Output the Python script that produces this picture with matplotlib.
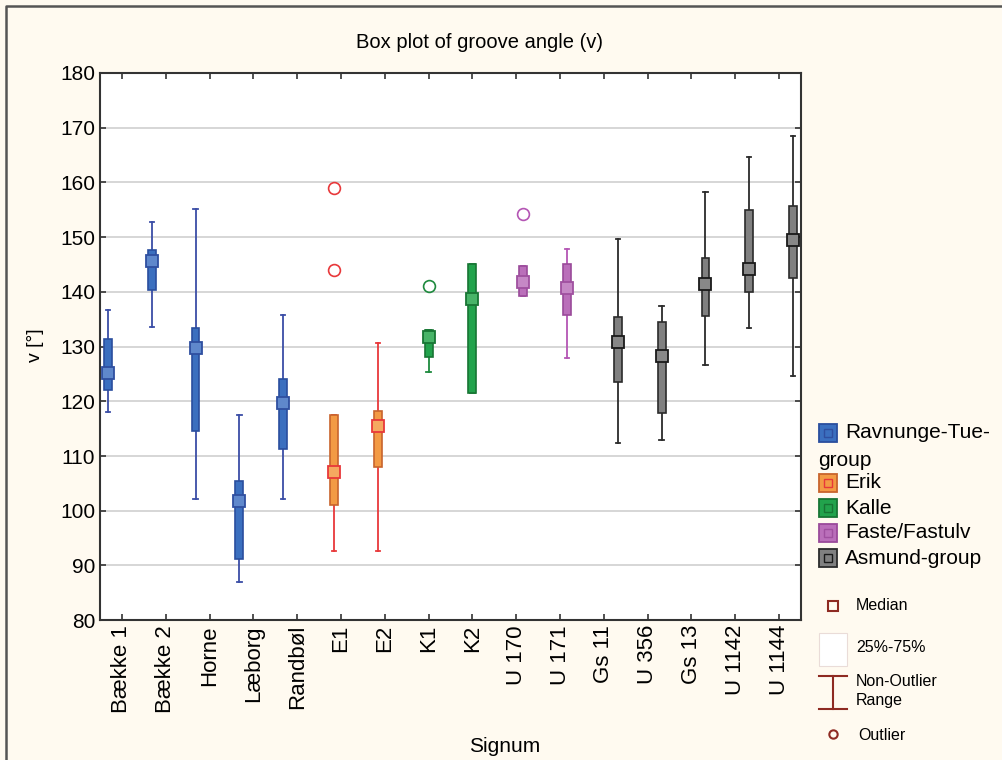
import matplotlib
matplotlib.use('Agg')
import matplotlib.pyplot as plt
from matplotlib.lines import Line2D
from matplotlib.patches import Rectangle

plt.rcParams['font.family'] = ['Liberation Sans', 'DejaVu Sans']

# Data
signum = ['Bække 1', 'Bække 2', 'Horne', 'Læborg', 'Randbøl', 'E1', 'E2', 'K1', 'K2',
          'U 170', 'U 171', 'Gs 11', 'U 356', 'Gs 13', 'U 1142', 'U 1144']
group_of = [0, 0, 0, 0, 0, 1, 1, 2, 2, 3, 3, 4, 4, 4, 4, 4]
whislo = [118.1, 133.6, 102.1, 86.9, 102.1, 92.7, 92.7, 125.3, 121.5, 139.3, 127.9, 112.3, 113.0, 126.6, 133.4, 124.7]
q1 = [122.1, 140.4, 114.5, 91.1, 111.2, 101.1, 107.9, 128.1, 121.5, 139.3, 135.8, 123.6, 117.9, 135.6, 139.9, 142.5]
median = [125.1, 145.6, 129.7, 101.7, 119.7, 107.1, 115.5, 131.8, 138.7, 141.8, 140.7, 130.8, 128.2, 141.5, 144.1, 149.5]
q3 = [131.3, 147.6, 133.4, 105.4, 124.1, 117.5, 118.3, 133.1, 145.1, 144.7, 145.0, 135.4, 134.4, 146.2, 154.9, 155.6]
whishi = [136.7, 152.8, 155.1, 117.5, 135.8, 117.5, 130.7, 133.1, 145.1, 144.7, 147.9, 149.7, 137.5, 158.3, 164.6, 168.5]
outliers = {'E1': [158.9, 144.0], 'K1': [141.1], 'U 170': [154.2]}

groups = ['Ravnunge-Tue-\ngroup', 'Erik', 'Kalle', 'Faste/Fastulv', 'Asmund-group']
fill_col = ['#3B6FBF', '#F39A44', '#22A34C', '#BA6FBA', '#808080']
edge_col = ['#2A4E9E', '#C8642C', '#187534', '#9A4A9A', '#2B2B2B']
line_col = ['#3A4DA6', '#E8383A', '#1E8A3E', '#B455B4', '#2B2B2B']
med_face = ['#5F88CC', '#F5A860', '#48B468', '#C688C6', '#888888']
med_col = ['#2F4FA0', '#E8383A', '#187534', '#A050A0', '#1A1A1A']
legend_col = '#8E2A22'

fig = plt.figure(figsize=(10.02, 7.6), dpi=100)
fig.patch.set_facecolor('#FFFAF0')
# frame only on the top and left edges, as in the reference
fig.add_artist(Line2D([0.006, 0.006, 1.0], [0.0, 0.992, 0.992], transform=fig.transFigure,
                      color='#555555', lw=1.8))

ax = fig.add_axes([0.0998, 0.184, 0.6996, 0.720])
ax.set_facecolor('white')

for i, name in enumerate(signum):
    g = group_of[i]
    pos = i + (g - 2) * 0.16
    stats = [{'med': median[i], 'q1': q1[i], 'q3': q3[i],
              'whislo': whislo[i], 'whishi': whishi[i],
              'fliers': outliers.get(name, [])}]
    ax.bxp(stats, positions=[pos], widths=0.18, patch_artist=True,
           showfliers=True, manage_ticks=False,
           boxprops=dict(facecolor=fill_col[g], edgecolor=edge_col[g], lw=1.2, zorder=3),
           whiskerprops=dict(color=line_col[g], lw=1.3, zorder=2),
           capprops=dict(color=line_col[g], lw=1.3, zorder=2),
           capwidths=0.1,
           medianprops=dict(linestyle='none'),
           flierprops=dict(marker='o', markerfacecolor='none', markeredgecolor=line_col[g],
                           markersize=8.5, markeredgewidth=1.2))
    ax.plot([pos], [median[i]], marker='s', markersize=8, markerfacecolor=med_face[g],
            markeredgecolor=med_col[g], markeredgewidth=1.3, zorder=4)

ax.set_xlim(-0.5, 15.5)
ax.set_ylim(80, 180)
ax.set_yticks(range(80, 181, 10))
ax.set_xticks(range(len(signum)))
ax.set_xticklabels(signum, rotation=90, fontsize=16)
ax.tick_params(axis='y', labelsize=15)
ax.tick_params(direction='in', length=4, width=1.2, color='#333333',
               top=True, right=True, bottom=True, left=True)
ax.yaxis.grid(True, color='#D0D0D0', lw=1.2)
ax.set_axisbelow(True)
for s in ax.spines.values():
    s.set_color('#333333')
    s.set_linewidth(1.5)

fig.text(480 / 1002, 1 - 43 / 760, 'Box plot of groove angle (v)', ha='center', va='center', fontsize=14.5)
fig.text(35 / 1002, 1 - 345 / 760, 'v [°]', ha='center', va='center', rotation=90, fontsize=14)
fig.text(505 / 1002, 1 - 746 / 760, 'Signum', ha='center', va='center', fontsize=15)

# Legend drawn in pixel coordinates
lax = fig.add_axes([0, 0, 1, 1])
lax.set_xlim(0, 1002)
lax.set_ylim(760, 0)
lax.axis('off')

legend_y = [433, 483, 508, 533, 558]
for g, lab in enumerate(groups):
    y = legend_y[g]
    lax.plot([828], [y], marker='s', markersize=13, markerfacecolor=fill_col[g],
             markeredgecolor=edge_col[g], markeredgewidth=1.3)
    lax.plot([828], [y], marker='s', markersize=6, markerfacecolor='none',
             markeredgecolor=med_col[g], markeredgewidth=1.0)
    first = lab.split('\n')[0]
    lax.text(845, y, first, ha='left', va='center', fontsize=15)
    if '\n' in lab:
        lax.text(818, y + 28, lab.split('\n')[1], ha='left', va='center', fontsize=15)

lax.plot([833], [606], marker='s', markersize=7, markerfacecolor='none',
         markeredgecolor=legend_col, markeredgewidth=1.5)
lax.text(856, 606, 'Median', ha='left', va='center', fontsize=11.5)
lax.add_patch(Rectangle((819, 633), 28, 33, facecolor='white', edgecolor='#EADCD8', lw=0.8))
lax.text(856, 647, '25%-75%', ha='left', va='center', fontsize=11.5)
lax.plot([819, 847], [676, 676], color=legend_col, lw=1.5)
lax.plot([819, 847], [709, 709], color=legend_col, lw=1.5)
lax.plot([833, 833], [676, 709], color=legend_col, lw=1.5)
lax.text(856, 691, 'Non-Outlier\nRange', ha='left', va='center', fontsize=11.5, linespacing=1.4)
lax.plot([833], [734], marker='o', markersize=6, markerfacecolor='none',
         markeredgecolor=legend_col, markeredgewidth=1.5)
lax.text(858, 735, 'Outlier', ha='left', va='center', fontsize=11.5)

fig.savefig('out.png', dpi=100, facecolor=fig.get_facecolor())
